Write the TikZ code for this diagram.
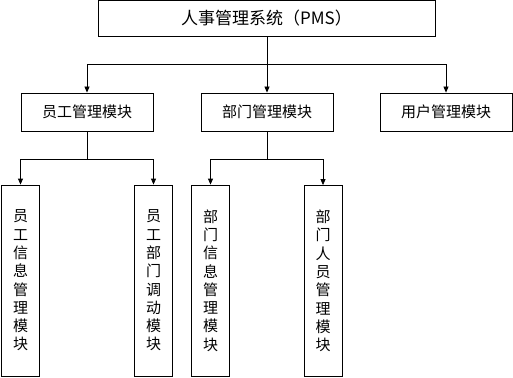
\documentclass[tikz,border=0pt]{standalone}
\usepackage{fontspec}
\setmainfont{Noto Sans CJK SC}
\usetikzlibrary{arrows.meta}
\begin{document}
\begin{tikzpicture}[x=1pt,y=-1pt,
  box/.style={draw,line width=0.8pt,inner sep=0pt,rectangle},
  lvltwo/.style={box,minimum width=132pt,minimum height=38pt,font=\fontsize{15}{18}\selectfont},
  vbox/.style={box,minimum width=38pt,minimum height=191pt,align=center,font=\fontsize{15}{18.3}\selectfont},
  arr/.style={line width=0.8pt,-{Triangle[length=6pt,width=5pt]}},
  ln/.style={line width=0.8pt}]
\useasboundingbox (0,0) rectangle (513,377);
\node[box,minimum width=337pt,minimum height=36pt,font=\fontsize{17}{20}\selectfont] (top) at (266.5,18.5) {人事管理系统（PMS）};
\node[lvltwo] (b1) at (87,112) {员工管理模块};
\node[lvltwo] (b2) at (267,112) {部门管理模块};
\node[lvltwo] (b3) at (446,112) {用户管理模块};
\node[vbox] (c1) at (20.5,280.5) {员\\工\\信\\息\\管\\理\\模\\块};
\node[vbox] (c2) at (153.5,280.5) {员\\工\\部\\门\\调\\动\\模\\块};
\node[vbox] (c3) at (210.5,280.5) {部\\门\\信\\息\\管\\理\\模\\块};
\node[vbox] (c4) at (323,281) {部\\门\\人\\员\\管\\理\\模\\块};
\coordinate (j1) at (267,64);
\coordinate (j2) at (87,159);
\coordinate (j3) at (267,159);
\draw[ln] (top.south -| j1) -- (j1);
\draw[arr] (j1) -| (b1.north);
\draw[arr] (j1) -- (b2.north);
\draw[arr] (j1) -| (b3.north);
\draw[ln] (b1.south) -- (j2);
\draw[arr] (j2) -| (c1.north);
\draw[arr] (j2) -| (c2.north);
\draw[ln] (b2.south) -- (j3);
\draw[arr] (j3) -| (c3.north);
\draw[arr] (j3) -| (c4.north);
\end{tikzpicture}
\end{document}
